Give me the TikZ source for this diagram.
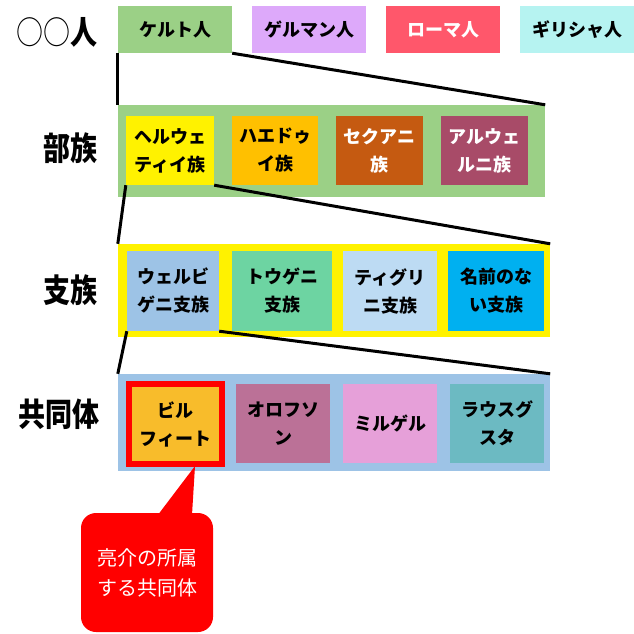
\documentclass[tikz,border=0pt]{standalone}
\usepackage{fontspec}
\setmainfont{Noto Sans CJK JP}
\usetikzlibrary{positioning,calc}
\definecolor{leafgreen}{HTML}{9BD086}
\definecolor{lavender}{HTML}{DDA9FA}
\definecolor{romered}{HTML}{FF576B}
\definecolor{icecyan}{HTML}{B6F3F1}
\definecolor{amber}{HTML}{FFC000}
\definecolor{rust}{HTML}{C55A11}
\definecolor{berry}{HTML}{A84B68}
\definecolor{skyblue}{HTML}{9DC3E6}
\definecolor{mint}{HTML}{6DD4A2}
\definecolor{paleblue}{HTML}{BDDBF3}
\definecolor{cyanblue}{HTML}{00B0F0}
\definecolor{marigold}{HTML}{F8BC2B}
\definecolor{mauve}{HTML}{BB7197}
\definecolor{orchid}{HTML}{E6A0D9}
\definecolor{teal}{HTML}{6CBAC2}
\newcommand{\tall}[1]{\scalebox{1}[1.2]{#1}}
\tikzset{
  folk/.style={minimum width=114pt,minimum height=47pt,inner sep=0pt,
    font=\fontsize{18}{22}\selectfont\bfseries},
  unit/.style={minimum height=#1,inner sep=0pt,align=center,
    font=\fontsize{18}{28}\selectfont\bfseries},
  unit/.default=69pt,
  band/.style={inner sep=0pt},
  rowlabel/.style={anchor=east,inner sep=0pt,font=\fontsize{27}{32}\selectfont\bfseries},
  zoomline/.style={line width=3pt}
}
\begin{document}
\begin{tikzpicture}[x=1pt,y=-1pt]
  \useasboundingbox[fill=white] (0,0) rectangle (634,634);
  % row labels
  \node[rowlabel] (lpeople) at (98,32) {\tall{{\mdseries ○○}人}};
  \node[rowlabel] (ltribe) at (98,148) {\tall{部族}};
  \node[rowlabel] (lsub) at (98,290) {\tall{支族}};
  \node[rowlabel] (lcomm) at (100,414) {\tall{共同体}};
  % peoples
  \node[folk,fill=leafgreen] (celt) at (175,29.5) {ケルト人};
  \node[folk,fill=lavender] (german) at (309,29.5) {ゲルマン人};
  \node[folk,fill=romered,text=white] (roman) at (443,29.5) {ローマ人};
  \node[folk,fill=icecyan] (greek) at (577,29.5) {ギリシャ人};
  % tribes of the Celts
  \node[band,fill=leafgreen,minimum width=427pt,minimum height=92pt] (tribeband) at (331.5,151) {};
  \node[unit,fill=yellow,minimum width=88pt] (helvetii) at (170,150.5) {ヘルウェ\\ティイ族};
  \node[unit,fill=amber,minimum width=86pt] (haedui) at (275,150.5) {ハエドゥ\\イ族};
  \node[unit,fill=rust,text=white,minimum width=87pt] (sequani) at (379.5,150.5) {セクアニ\\族};
  \node[unit,fill=berry,text=white,minimum width=87pt] (arverni) at (484.5,150.5) {アルウェ\\ルニ族};
  % sub-tribes of the Helvetii
  \node[band,fill=yellow,minimum width=432pt,minimum height=93pt] (subband) at (334,290.5) {};
  \node[unit=80pt,fill=skyblue,minimum width=92pt] (verbigeni) at (173,291) {ウェルビ\\ゲニ支族};
  \node[unit=80pt,fill=mint,minimum width=100pt] (tougeni) at (282,291) {トウゲニ\\支族};
  \node[unit=80pt,fill=paleblue,minimum width=94pt] (tigurini) at (390,291) {ティグリ\\ニ支族};
  \node[unit=80pt,fill=cyanblue,minimum width=96pt] (noname) at (496,291) {名前のな\\い支族};
  % communities of the Verbigeni
  \node[band,fill=skyblue,minimum width=432pt,minimum height=97pt] (commband) at (334,422.5) {};
  \node[unit=80pt,fill=marigold,draw=red,line width=6pt,minimum width=93pt] (bilfeet) at (175.5,424) {ビル\\フィート};
  \node[unit=79pt,fill=mauve,minimum width=94pt] (orofuson) at (283,423.5) {オロフソ\\ン};
  \node[unit=79pt,fill=orchid,minimum width=94pt] (mirugeru) at (390,423.5) {ミルゲル};
  \node[unit=79pt,fill=teal,minimum width=94pt] (rausgusta) at (497,423.5) {ラウスグ\\スタ};
  % zoom lines
  \draw[zoomline] (celt.south west) -- (tribeband.north west);
  \draw[zoomline] (celt.south east) -- (tribeband.north east);
  \draw[zoomline] (helvetii.south west) -- (subband.north west);
  \draw[zoomline] (helvetii.south east) -- (subband.north east);
  \draw[zoomline] (verbigeni.south west) -- (commband.north west);
  \draw[zoomline] (verbigeni.south east) -- (commband.north east);
  % callout
  \node[fill=red,rounded corners=15pt,minimum width=132pt,minimum height=119pt,
        inner sep=0pt,align=center,text=white,font=\fontsize{20}{30}\selectfont]
    (callout) at (147,572.5) {亮介の所属\\する共同体};
  \coordinate (tip) at (195,466);
  \fill[red] ($(callout.north)+(11,2)$) -- (tip) -- ($(callout.north)+(45,2)$) -- cycle;
\end{tikzpicture}
\end{document}
